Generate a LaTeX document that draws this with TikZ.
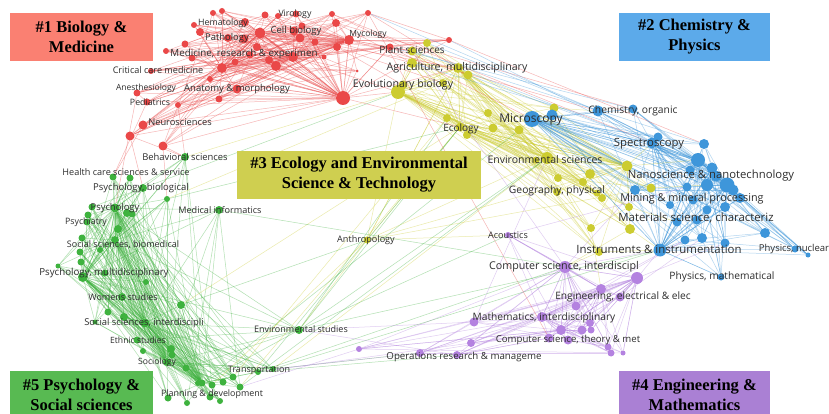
\documentclass[tikz,border=0pt]{standalone}
\usepackage{fontspec}
\newfontfamily\lblfont{Open Sans}
\newfontfamily\titlefont{Liberation Serif}
\definecolor{BioRed}{RGB}{234,72,72}
\definecolor{EcoYellow}{RGB}{204,204,48}
\definecolor{ChemBlue}{RGB}{62,150,218}
\definecolor{PsyGreen}{RGB}{62,178,62}
\definecolor{EngPurple}{RGB}{180,130,224}
\definecolor{LabelGray}{RGB}{45,45,45}
\definecolor{boxRed}{RGB}{250,128,114}
\definecolor{boxBlue}{RGB}{92,170,234}
\definecolor{boxYellow}{RGB}{207,207,80}
\definecolor{boxPurple}{RGB}{170,128,212}
\definecolor{boxGreen}{RGB}{88,186,82}
\pgfdeclarelayer{edges}
\pgfsetlayers{edges,main}

\begin{document}
\begin{tikzpicture}[x=1pt, y=-1pt,
    vtx/.style={circle, inner sep=0pt, fill=#1},
    link/.style={draw=#1, line width=0.5pt, opacity=0.4},
    lbl/.style={font=\lblfont\fontsize{#1}{#1}\selectfont, text=LabelGray, inner sep=0pt},
    tagbox/.style={fill=#1, minimum height=48pt, align=center, inner sep=0pt,
                   font=\titlefont\bfseries\fontsize{16.5}{20}\selectfont}
  ]
  \useasboundingbox (0,0) rectangle (829,414);

  % cluster 1 (red)
  \foreach \px/\py/\s [count=\i] in {343/98/14, 260/33/11, 293/57/10, 349/40/10, 276/66/10,
      222/68/10, 237/89/9, 244/39/9, 294/31/9, 336/23/8, 245/22/8, 213/13/6, 222/11/6,
      265/15/7, 278/16/6, 296/14/7, 332/14/6, 368/13/6, 200/32/8, 194/25/6, 302/26/7,
      337/47/8, 324/57/5, 269/60/8, 235/62/7, 210/79/6, 219/99/7, 178/105/6, 151/71/6,
      137/93/7, 147/102/7, 143/125/9, 185/44/7, 166/51/6, 192/58/7, 357/71/3, 257/47/8,
      250/55/7, 130/136/9, 163/146/9, 449/40/6, 228/38/8, 300/38/9, 315/42/7, 390/47/7}
    \node[vtx=BioRed, minimum size=\s] (r\i) at (\px,\py) {};

  % cluster 3 (yellow)
  \foreach \px/\py/\s [count=\i] in {398/92/14, 547/158/12, 412/51/9, 458/68/10, 460/127/9,
      627/166/11, 630/229/10, 427/43/8, 412/63/10, 468/75/9, 403/85/9, 443/83/8, 447/118/8,
      467/135/8, 488/113/8, 493/128/9, 519/130/9, 554/108/9, 558/178/8, 583/182/8,
      590/174/10, 602/198/8, 597/193/7, 651/188/9, 629/207/8, 591/228/8, 599/252/8,
      557/192/8, 367/240/7, 536/160/7}
    \node[vtx=EcoYellow, minimum size=\s] (y\i) at (\px,\py) {};

  % cluster 2 (blue)
  \foreach \px/\py/\s [count=\i] in {532/119/16, 698/160/14, 727/185/15, 660/250/13,
      652/143/11, 598/111/11, 707/185/12, 633/109/9, 552/115/11, 658/137/9, 704/144/10,
      712/168/11, 733/190/11, 687/187/9, 635/190/10, 693/200/9, 707/210/9, 725/207/10,
      677/222/9, 697/220/9, 685/240/9, 702/238/10, 725/243/9, 765/233/10, 795/249/7,
      808/255/5, 721/277/7, 716/176/11, 740/198/10, 690/170/9, 670/205/8}
    \node[vtx=ChemBlue, minimum size=\s] (b\i) at (\px,\py) {};

  % cluster 4 (purple)
  \foreach \px/\py/\s [count=\i] in {565/267/12, 637/278/12, 542/317/10, 601/289/10,
      620/297/9, 576/306/9, 474/322/9, 561/330/10, 582/330/9, 590/323/8, 591/330/7,
      549/338/9, 568/340/9, 471/343/8, 608/347/7, 611/353/7, 623/353/5, 420/353/8,
      457/355/8, 359/349/6, 508/235/6}
    \node[vtx=EngPurple, minimum size=\s] (p\i) at (\px,\py) {};

  % cluster 5 (green)
  \foreach \px/\py/\s [count=\i] in {83/277/10, 145/323/9, 115/208/9, 299/330/8, 185/157/8,
      113/177/7, 130/178/7, 143/188/8, 167/199/6, 92/207/7, 88/215/7, 127/213/8, 132/214/7,
      87/222/7, 118/229/8, 82/238/7, 115/240/8, 80/252/7, 100/250/6, 81/262/7, 58/266/5,
      105/273/7, 146/282/6, 122/297/8, 181/305/8, 108/312/7, 124/317/8, 95/322/5,
      137/340/7, 171/349/8, 172/355/7, 143/351/6, 167/362/8, 186/368/7, 202/383/7,
      212/385/7, 223/382/7, 220/401/6, 168/398/7, 187/403/6, 240/387/7, 233/377/7,
      258/372/6, 273/369/6, 210/397/7, 219/210/8, 198/383/6}
    \node[vtx=PsyGreen, minimum size=\s] (g\i) at (\px,\py) {};

  \begin{pgfonlayer}{edges}
    \fill[white] (0,0) rectangle (829,414);
    % links inside the clusters
    \foreach \i in {1,...,45} {
      \foreach \h in {1,2,3,4,6}
        {\ifnum\i=\h\relax\else\draw[link=BioRed] (r\i) -- (r\h);\fi}
      \pgfmathtruncatemacro\k{mod(\i*7,45)+1}
      \ifnum\i=\k\relax\else\draw[link=BioRed] (r\i) -- (r\k);\fi
    }
    \foreach \i in {1,...,30} {
      \foreach \h in {1,2,4,5,6}
        {\ifnum\i=\h\relax\else\draw[link=EcoYellow] (y\i) -- (y\h);\fi}
      \pgfmathtruncatemacro\k{mod(\i*7,30)+1}
      \ifnum\i=\k\relax\else\draw[link=EcoYellow] (y\i) -- (y\k);\fi
    }
    \foreach \i in {1,...,31} {
      \foreach \h in {1,2,3,4,5,12}
        {\ifnum\i=\h\relax\else\draw[link=ChemBlue] (b\i) -- (b\h);\fi}
      \pgfmathtruncatemacro\k{mod(\i*7,31)+1}
      \ifnum\i=\k\relax\else\draw[link=ChemBlue] (b\i) -- (b\k);\fi
    }
    \foreach \i in {1,...,21} {
      \foreach \h in {1,2,3,4,8}
        {\ifnum\i=\h\relax\else\draw[link=EngPurple] (p\i) -- (p\h);\fi}
      \pgfmathtruncatemacro\k{mod(\i*5,21)+1}
      \ifnum\i=\k\relax\else\draw[link=EngPurple] (p\i) -- (p\k);\fi
    }
    \foreach \i in {1,...,47} {
      \foreach \h in {1,2,3,17,33,35}
        {\ifnum\i=\h\relax\else\draw[link=PsyGreen] (g\i) -- (g\h);\fi}
      \pgfmathtruncatemacro\k{mod(\i*7,47)+1}
      \ifnum\i=\k\relax\else\draw[link=PsyGreen] (g\i) -- (g\k);\fi
    }
    % links between the clusters
    \foreach \a/\b in {r4/y3, r4/y8, r10/y9, r1/y1, r1/y4, r22/y11, r17/y3, r3/y1, r9/y9,
        r43/y3, r44/y4, r45/y3, r1/y5, r18/y4, r45/y10, r22/y12, r4/b6, r10/b8, r17/b5,
        r45/b1, r41/b11, r18/p12, r39/g5, r40/g5, r32/g6, r30/g3, r39/g8, r31/g6, r40/g9,
        r28/g5}
      \draw[link=BioRed] (\a) -- (\b);
    \foreach \a/\b in {y29/g4, y5/g41, y13/g42, y1/g5, y5/g25, y29/g36, y12/g9, y2/g44,
        y27/p1, y7/p1, y26/p4, y29/p21, y17/b1, y16/b1, y21/b15, y6/b5, y7/b4, y6/b2,
        y24/b7, y25/b19, y27/b4, y18/b6}
      \draw[link=EcoYellow] (\a) -- (\b);
    \foreach \a/\b in {b6/r18, b5/r41, b8/r45, b6/y8, b5/y4, b2/y10, b11/y3, b10/y9}
      \draw[link=ChemBlue] (\a) -- (\b);
    \foreach \a/\b in {g46/p1, g4/y2, g4/y5, g43/y5, g35/y17, g41/y2, g4/y13, g25/y29,
        g8/y1, g9/y5, g4/b4, g44/b4, g43/p1, g4/p21, g44/p18, g43/p19}
      \draw[link=PsyGreen] (\a) -- (\b);
    \foreach \a/\b in {p2/b4, p1/b4, p4/b21, p5/b22, p2/b23, p1/b15, p18/g44, p19/g4,
        p14/g43, p7/g4, p20/g41, p7/y2, p3/b21, p21/b14, p1/y3}
      \draw[link=EngPurple] (\a) -- (\b);
  \end{pgfonlayer}

  % subject labels
  \node[lbl=8.8] (virology)   at (295,14)  {Virology};
  \node[lbl=8.8] (hematology) at (223,23)  {Hematology};
  \node[lbl=9.5] (cellbio)    at (296,31)  {Cell biology};
  \node[lbl=9.4] (pathology)  at (227,38)  {Pathology};
  \node[lbl=8.5] (mycology)   at (368,34)  {Mycology};
  \node[lbl=9.8] (medicine)   at (244,54)  {Medicine, research \& experimen};
  \node[lbl=9.1] (critcare)   at (158,70)  {Critical care medicine};
  \node[lbl=8.5] (anesth)     at (146,88)  {Anesthesiology};
  \node[lbl=9.5] (anatomy)    at (237,89)  {Anatomy \& morphology};
  \node[lbl=8.8] (pediatrics) at (150,102) {Pediatrics};
  \node[lbl=9.3] (neuro)      at (180,122) {Neurosciences};

  \node[lbl=10]   (plantsci)   at (412,50)  {Plant sciences};
  \node[lbl=10.6] (agri)       at (457,68)  {Agriculture, multidisciplinary};
  \node[lbl=10.6] (evobio)     at (403,85)  {Evolutionary biology};
  \node[lbl=10]   (ecology)    at (461,129) {Ecology};
  \node[lbl=12]   (microscopy) at (531,120) {Microscopy};
  \node[lbl=10.5] (envsci)     at (545,160) {Environmental sciences};
  \node[lbl=10.3] (geophys)    at (557,191) {Geography, physical};
  \node[lbl=9.1]  (anthro)     at (366,240) {Anthropology};

  \node[lbl=10.3] (chemorg)  at (633,111) {Chemistry, organic};
  \node[lbl=11.3] (spectro)  at (649,144) {Spectroscopy};
  \node[lbl=11.3] (nano)     at (711,176) {Nanoscience \& nanotechnology};
  \node[lbl=10.8] (mining)   at (692,199) {Mining \& mineral processing};
  \node[lbl=11.4] (matsci)   at (696,218) {Materials science, characteriz};
  \node[lbl=11.4] (instr)    at (659,249) {Instruments \& instrumentation};
  \node[lbl=9.5]  (physnuc)  at (794,249) {Physics, nuclear};
  \node[lbl=10.2] (physmath) at (722,277) {Physics, mathematical};

  \node[lbl=9.1]  (acoustics) at (508,235) {Acoustics};
  \node[lbl=10.7] (csinter)   at (564,267) {Computer science, interdiscipl};
  \node[lbl=10.2] (engelec)   at (623,297) {Engineering, electrical \& elec};
  \node[lbl=10.2] (mathinter) at (544,318) {Mathematics, interdisciplinary};
  \node[lbl=9.6]  (cstheory)  at (568,340) {Computer science, theory \& met};
  \node[lbl=9.7]  (opsres)    at (464,357) {Operations research \& manageme};

  \node[lbl=9.4] (behav)      at (185,157) {Behavioral sciences};
  \node[lbl=9.1] (health)     at (126,172) {Health care sciences \& service};
  \node[lbl=9.5] (psybio)     at (141,188) {Psychology, biological};
  \node[lbl=9.1] (medinf)     at (220,210) {Medical informatics};
  \node[lbl=9.4] (psychology) at (115,208) {Psychology};
  \node[lbl=8.8] (psychiatry) at (86,222)  {Psychiatry};
  \node[lbl=9]   (socbio)     at (123,245) {Social sciences, biomedical};
  \node[lbl=9.7] (psymulti)   at (104,273) {Psychology, multidisciplinary};
  \node[lbl=9]   (womens)     at (123,297) {Womens studies};
  \node[lbl=9.4] (socinter)   at (144,323) {Social sciences, interdiscipli};
  \node[lbl=8.6] (ethnic)     at (138,340) {Ethnic studies};
  \node[lbl=8.6] (sociology)  at (157,362) {Sociology};
  \node[lbl=9]   (envstud)    at (301,329) {Environmental studies};
  \node[lbl=9]   (transport)  at (259,370) {Transportation};
  \node[lbl=8.9] (planning)   at (212,394) {Planning \& development};

  % cluster titles
  \node[tagbox=boxRed, minimum width=143pt]    (bio)  at (81.5,37)  {\#1 Biology \&\\Medicine};
  \node[tagbox=boxBlue, minimum width=151pt]   (chem) at (694.5,37) {\#2 Chemistry \&\\Physics};
  \node[tagbox=boxYellow, minimum width=244pt] (eco)  at (359,175)  {\#3 Ecology and Environmental\\Science \& Technology};
  \node[tagbox=boxPurple, minimum width=151pt] (eng)  at (694.5,395) {\#4 Engineering \&\\Mathematics};
  \node[tagbox=boxGreen, minimum width=143pt]  (psy)  at (81.5,395) {\#5 Psychology \&\\Social sciences};
\end{tikzpicture}
\end{document}
